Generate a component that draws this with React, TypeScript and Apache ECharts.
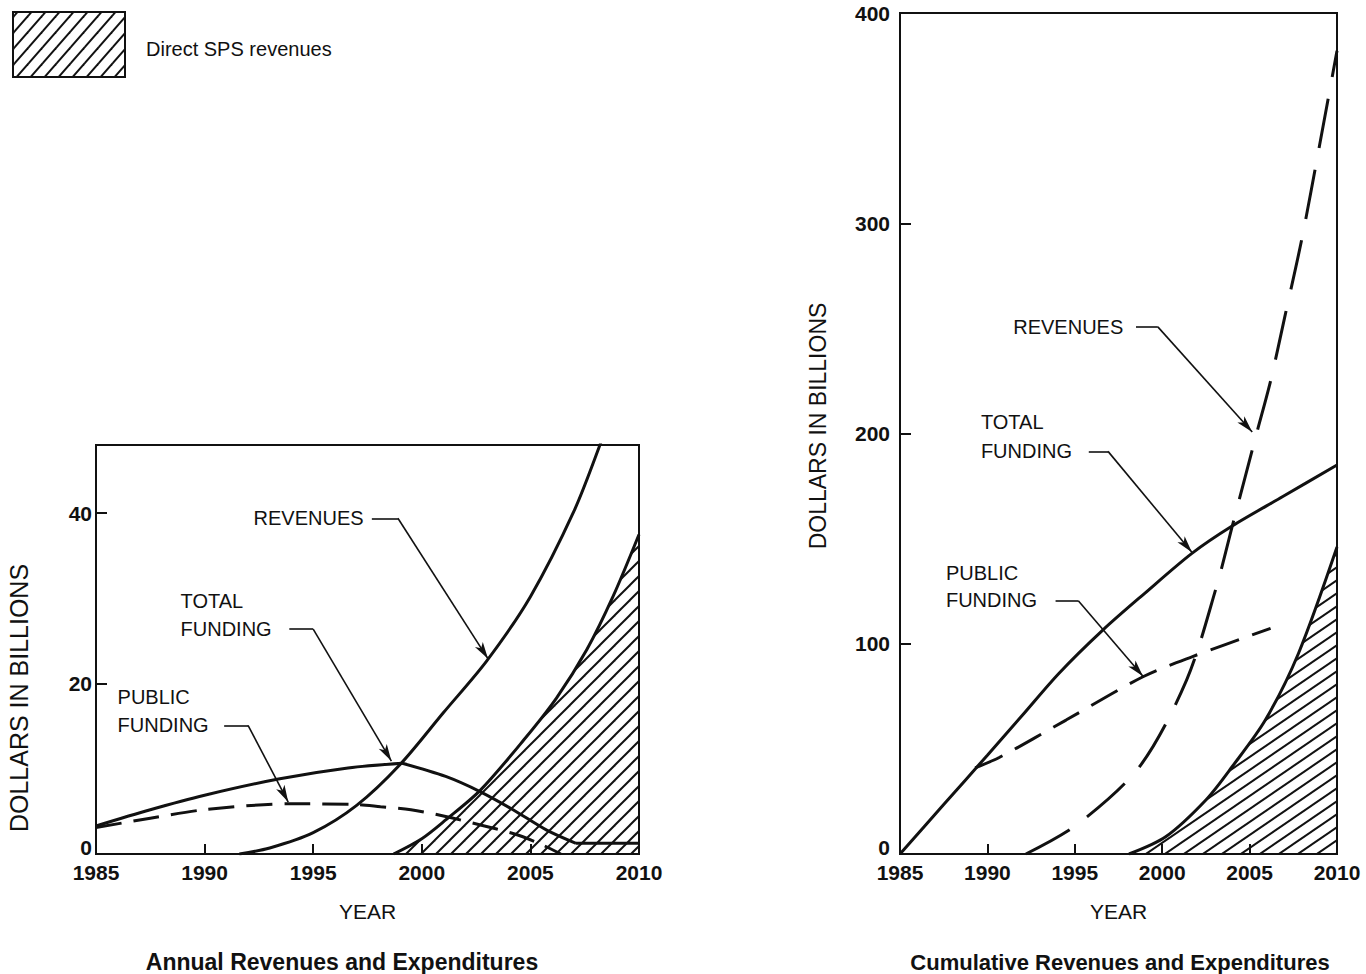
import React, { useEffect, useRef } from 'react';
import * as echarts from 'echarts';

// ---------- data (years, billions of dollars) ----------
const yearRange = [1985, 2010];
const annualYTicks = [0, 20, 40];
const cumulativeYTicks = [0, 100, 200, 300, 400];

// Annual chart
const annualSps = [
  [1998.7, 0], [2000, 1.8], [2001.1, 4.0], [2002.7, 7.5], [2004.7, 13.4],
  [2006.2, 18.3], [2007.6, 24], [2008.8, 30.2], [2010, 37.5],
];
const annualRevenues = [
  [1991.6, 0], [1993, 0.7], [1995, 2.5], [1997, 5.7], [1999, 10.5], [2001, 16.6],
  [2003, 22.7], [2005, 30.2], [2007, 40.2], [2008.2, 48], [2009, 54],
];
const annualTotalRise = [
  [1985, 3.3], [1987.5, 5.2], [1990, 6.9], [1993.4, 8.8], [1996.6, 10.1], [1999.1, 10.65],
];
const annualTotalFall = [
  [1999.1, 10.65], [2001.1, 9.1], [2002.7, 7.3], [2004.2, 5.2], [2005.75, 2.8], [2007.1, 1.25],
];
const annualTotalFlat = [[2007.1, 1.25], [2010, 1.25]];
const annualPublic = [
  [1985, 3.1], [1987.5, 4.2], [1990, 5.2], [1994, 5.9], [1997, 5.8], [1998.1, 5.55],
  [1999.5, 5.2], [2001.1, 4.4], [2002.7, 3.4], [2004.2, 2.4], [2005.4, 1.25], [2006.4, 0],
];

// Cumulative chart
const cumulativeSps = [
  [1998.1, 0], [2000.2, 8.2], [2002.5, 25.7], [2004, 41.5], [2005.9, 63.7], [2007.8, 95.5], [2010, 146],
];
const cumulativeRevenues = [
  [1992.2, 0], [1995.1, 13.8], [1998.7, 41.5], [2001.4, 82.8], [2003.1, 127], [2004, 155.7],
  [2005.4, 200], [2006.2, 225], [2007, 255], [2008, 293], [2009, 337], [2010, 382],
];
const cumulativeTotal = [
  [1985, 0], [1987.5, 23.5], [1990, 47], [1992, 66], [1994.1, 86], [1996.6, 106.5],
  [1999, 124], [2001.7, 143], [2004, 156], [2006.9, 170], [2010, 185],
];
const cumulativePublic = [
  [1989.3, 41], [1990.7, 46], [1994.5, 63.7], [1998.9, 84.3], [2001.7, 93.8], [2006.2, 107.3],
];

// Annotation labels (data coordinates of the text's left-middle point)
const annualLabels = [
  { text: 'REVENUES', at: [1992.23, 39.4] },
  { text: 'TOTAL', at: [1988.87, 29.7] },
  { text: 'FUNDING', at: [1988.87, 26.4] },
  { text: 'PUBLIC', at: [1985.97, 18.4] },
  { text: 'FUNDING', at: [1985.97, 15.1] },
];
const annualLeaders = [
  [[1997.7, 39.4], [1998.9, 39.4], [2003.05, 22.9]],
  [[1993.9, 26.4], [1995.0, 26.4], [1998.6, 10.9]],
  [[1990.9, 15.1], [1992.0, 15.1], [1993.85, 6.1]],
];
const cumulativeLabels = [
  { text: 'REVENUES', at: [1991.45, 250.7] },
  { text: 'TOTAL', at: [1989.6, 205.5] },
  { text: 'FUNDING', at: [1989.6, 191.7] },
  { text: 'PUBLIC', at: [1987.6, 133.7] },
  { text: 'FUNDING', at: [1987.6, 120.8] },
];
const cumulativeLeaders = [
  [[1998.5, 250.7], [1999.75, 250.7], [2005.15, 200.7]],
  [[1995.8, 191.5], [1996.9, 191.5], [2001.7, 143.5]],
  [[1993.9, 120.5], [1995.2, 120.5], [1998.9, 84.5]],
];

const legendText = 'Direct SPS revenues';
const annualTitle = 'Annual Revenues and Expenditures';
const cumulativeTitle = 'Cumulative Revenues and Expenditures';
const yAxisTitle = 'DOLLARS IN BILLIONS';
const xAxisTitle = 'YEAR';

// ---------- styling ----------
const FONT = '"Liberation Sans", Arial, Helvetica, sans-serif';
const INK = '#111';

function makeHatch(w: number, h: number, lw: number) {
  const c = document.createElement('canvas');
  c.width = w;
  c.height = h;
  const g = c.getContext('2d') as CanvasRenderingContext2D;
  g.strokeStyle = INK;
  g.lineWidth = lw;
  for (const dx of [-w, 0, w]) {
    g.beginPath();
    g.moveTo(dx - w * 0.5, h * 1.5);
    g.lineTo(dx + w * 1.5, -h * 0.5);
    g.stroke();
  }
  return { image: c, repeat: 'repeat', imageWidth: w, imageHeight: h } as any;
}

function leaderLines(leaders: number[][][]) {
  const out: any[] = [];
  leaders.forEach(([a, b, c]) => {
    out.push([{ coord: a, symbol: 'none' }, { coord: b, symbol: 'none' }]);
    out.push([{ coord: b, symbol: 'none' }, { coord: c, symbol: 'arrow' }]);
  });
  return out;
}

function annotationMarks(labels: { text: string; at: number[] }[], leaders: number[][][]) {
  return {
    markLine: {
      silent: true,
      animation: false,
      symbolSize: [7, 17],
      lineStyle: { color: INK, width: 1.6, type: 'solid' },
      label: { show: false },
      emphasis: { disabled: true },
      data: leaderLines(leaders),
    },
    markPoint: {
      silent: true,
      animation: false,
      symbol: 'circle',
      symbolSize: 1,
      itemStyle: { color: 'rgba(0,0,0,0)' },
      label: {
        show: true,
        position: 'right',
        distance: 0,
        formatter: '{b}',
        color: INK,
        fontFamily: FONT,
        fontSize: 20,
      },
      data: labels.map((l) => ({ name: l.text, coord: l.at })),
    },
  };
}

function xAxisFor(gridIndex: number) {
  return {
    gridIndex,
    type: 'value',
    min: yearRange[0],
    max: yearRange[1],
    interval: 5,
    name: xAxisTitle,
    nameLocation: 'middle',
    nameGap: 47,
    nameTextStyle: { fontFamily: FONT, fontSize: 21, color: INK },
    axisLine: { show: true, lineStyle: { color: INK, width: 2 } },
    axisTick: { show: true, inside: true, length: 10, lineStyle: { color: INK, width: 2 } },
    axisLabel: {
      fontFamily: FONT,
      fontSize: 21,
      fontWeight: 'bold',
      color: INK,
      margin: 8,
      formatter: (v: number) => String(v),
    },
    splitLine: { show: false },
  };
}

function yAxisFor(gridIndex: number, max: number, interval: number, ticks: number[], margin: number) {
  return {
    gridIndex,
    type: 'value',
    min: 0,
    max,
    interval,
    axisLine: { show: true, lineStyle: { color: INK, width: 2 } },
    axisTick: { show: true, inside: true, length: 11, lineStyle: { color: INK, width: 2 } },
    axisLabel: {
      fontFamily: FONT,
      fontSize: 21,
      fontWeight: 'bold',
      color: INK,
      margin,
      showMaxLabel: ticks.indexOf(max) >= 0,
      formatter: (v: number) => (v === 0 ? '{z|0}' : ticks.indexOf(v) >= 0 ? String(v) : ''),
      rich: {
        z: { fontFamily: FONT, fontSize: 21, fontWeight: 'bold', color: INK, padding: [0, 0, 14, 0] },
      },
    },
    splitLine: { show: false },
  };
}

function lineSeries(axis: number, data: number[][], extra: any = {}) {
  return {
    type: 'line',
    xAxisIndex: axis,
    yAxisIndex: axis,
    data,
    smooth: 0.3,
    symbol: 'none',
    silent: true,
    clip: true,
    lineStyle: { color: INK, width: 3, cap: 'butt' },
    z: 3,
    ...extra,
  };
}

export default function App() {
  const ref = useRef<HTMLDivElement>(null);

  useEffect(() => {
    if (!ref.current) return;
    const chart = echarts.init(ref.current, null, { renderer: 'svg' });

    const hatchAnnual = makeHatch(15, 15, 2);
    const hatchCumulative = makeHatch(19, 13, 2);
    const hatchLegend = makeHatch(14, 16, 2);

    const option: any = {
      animation: false,
      backgroundColor: '#fff',
      textStyle: { fontFamily: FONT },
      grid: [
        { left: 96, top: 445, width: 543, height: 409, show: true, borderColor: INK, borderWidth: 2, backgroundColor: 'transparent' },
        { left: 900, top: 13, width: 437, height: 841, show: true, borderColor: INK, borderWidth: 2, backgroundColor: 'transparent' },
      ],
      xAxis: [xAxisFor(0), xAxisFor(1)],
      yAxis: [
        yAxisFor(0, 48, 20, annualYTicks, 4),
        yAxisFor(1, 400, 100, cumulativeYTicks, 10),
      ],
      series: [
        // ----- annual -----
        lineSeries(0, annualSps, { areaStyle: { color: hatchAnnual, opacity: 1 }, z: 2 }),
        lineSeries(0, annualRevenues),
        lineSeries(0, annualTotalRise, annotationMarks(annualLabels, annualLeaders)),
        lineSeries(0, annualTotalFall),
        lineSeries(0, annualTotalFlat, { smooth: false }),
        lineSeries(0, annualPublic, { lineStyle: { color: INK, width: 3, type: [26, 12], cap: 'butt' } }),
        // ----- cumulative -----
        lineSeries(1, cumulativeSps, { areaStyle: { color: hatchCumulative, opacity: 1 }, z: 2 }),
        lineSeries(1, cumulativeTotal, annotationMarks(cumulativeLabels, cumulativeLeaders)),
        lineSeries(1, cumulativePublic, { lineStyle: { color: INK, width: 3, type: [30, 14], cap: 'butt' } }),
        lineSeries(1, cumulativeRevenues, { lineStyle: { color: INK, width: 3, type: [50, 22], cap: 'butt' } }),
      ],
      graphic: [
        {
          type: 'rect',
          shape: { x: 13, y: 12, width: 112, height: 65 },
          style: { fill: hatchLegend, stroke: INK, lineWidth: 2 },
          silent: true,
        },
        {
          type: 'text',
          x: 146,
          y: 49,
          style: { text: legendText, fontFamily: FONT, fontSize: 20, fill: INK, verticalAlign: 'middle' },
          silent: true,
        },
        {
          type: 'text',
          x: 19,
          y: 698,
          rotation: Math.PI / 2,
          style: { text: yAxisTitle, fontFamily: FONT, fontSize: 25, fill: INK, align: 'center', verticalAlign: 'middle' },
          silent: true,
        },
        {
          type: 'text',
          x: 818,
          y: 426,
          rotation: Math.PI / 2,
          style: { text: yAxisTitle, fontFamily: FONT, fontSize: 23, fill: INK, align: 'center', verticalAlign: 'middle' },
          silent: true,
        },
        {
          type: 'text',
          x: 342,
          y: 962,
          style: { text: annualTitle, fontFamily: FONT, fontSize: 23, fontWeight: 'bold', fill: INK, align: 'center', verticalAlign: 'middle' },
          silent: true,
        },
        {
          type: 'text',
          x: 1120,
          y: 962,
          style: { text: cumulativeTitle, fontFamily: FONT, fontSize: 22, fontWeight: 'bold', fill: INK, align: 'center', verticalAlign: 'middle' },
          silent: true,
        },
      ],
    };

    chart.setOption(option);
    return () => chart.dispose();
  }, []);

  return (
    <div
      ref={ref}
      style={{ position: 'absolute', left: 0, top: 0, width: 1366, height: 974, background: '#fff' }}
    />
  );
}
